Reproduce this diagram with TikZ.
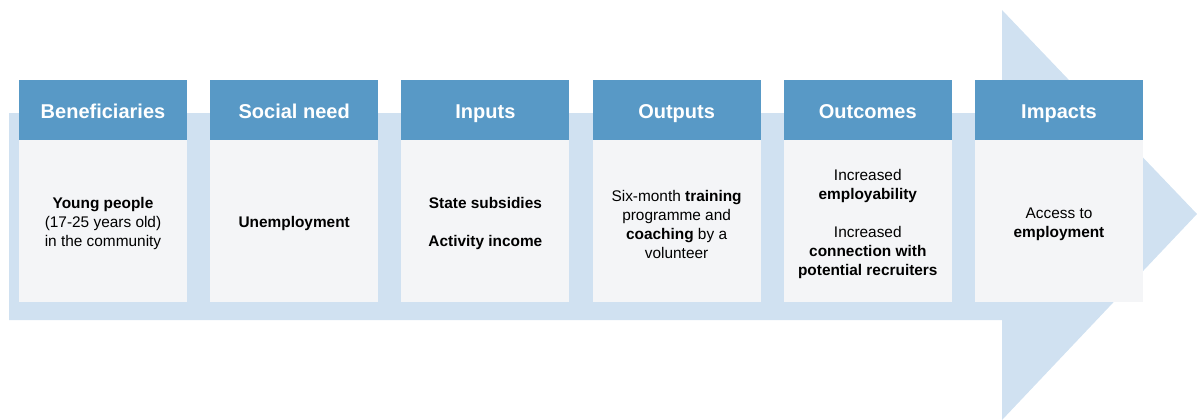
\documentclass[tikz,border=0pt]{standalone}
\usepackage{fontspec}
\setmainfont{Liberation Sans}
\usetikzlibrary{positioning,shadows}

\definecolor{headblue}{RGB}{88,153,198}
\definecolor{arrowblue}{RGB}{208,225,241}
\definecolor{bodygray}{RGB}{244,245,247}

\begin{document}
\begin{tikzpicture}[x=1pt,y=-1pt,
    head/.style={fill=headblue, text=white, font=\fontsize{20}{24}\selectfont\bfseries,
      minimum width=168pt, minimum height=60pt, inner sep=0pt, outer sep=0pt,
      text height=16.6pt, text depth=0pt,
      drop shadow={shadow xshift=0pt, shadow yshift=-2pt, opacity=0.35}},
    body/.style={fill=bodygray, minimum width=168pt, minimum height=162pt,
      inner sep=0pt, outer sep=0pt},
    note/.style={text=black, font=\fontsize{15.4}{19}\selectfont,
      inner sep=0pt, align=center, yshift=-3pt}]

  \useasboundingbox (0,0) rectangle (1197,420);

  % background arrow
  \fill[arrowblue] (9,113) -- (1002,113) -- (1002,10) -- (1197,214)
      -- (1002,420) -- (1002,320) -- (9,320) -- cycle;

  % headers
  \node[head, anchor=north west] (benef) at (19,80) {Beneficiaries};
  \node[head, right=23.2pt of benef] (need) {Social need};
  \node[head, right=23.2pt of need] (inputs) {Inputs};
  \node[head, right=23.2pt of inputs] (outputs) {Outputs};
  \node[head, right=23.2pt of outputs] (outcomes) {Outcomes};
  \node[head, right=23.2pt of outcomes] (impacts) {Impacts};

  % panels
  \node[body, below=0pt of benef] (benefbody) {};
  \node[body, below=0pt of need] (needbody) {};
  \node[body, below=0pt of inputs] (inputsbody) {};
  \node[body, below=0pt of outputs] (outputsbody) {};
  \node[body, below=0pt of outcomes] (outcomesbody) {};
  \node[body, below=0pt of impacts] (impactsbody) {};

  % contents
  \node[note] (benefnote) at (benefbody.center)
      {\textbf{Young people}\\(17-25 years old)\\in the community};
  \node[note] (neednote) at (needbody.center) {\textbf{Unemployment}};
  \node[note] (inputsnote) at (inputsbody.center)
      {\textbf{State subsidies}\\[19pt]\textbf{Activity income}};
  \node[note] (outputsnote) at (outputsbody.center)
      {Six-month \textbf{training}\\programme and\\\textbf{coaching} by a\\volunteer};
  \node[note] (outcomesnote) at (outcomesbody.center)
      {Increased\\\textbf{employability}\\[19pt]Increased\\\textbf{connection with}\\\textbf{potential recruiters}};
  \node[note] (impactsnote) at (impactsbody.center)
      {Access to\\\textbf{employment}};

\end{tikzpicture}
\end{document}
